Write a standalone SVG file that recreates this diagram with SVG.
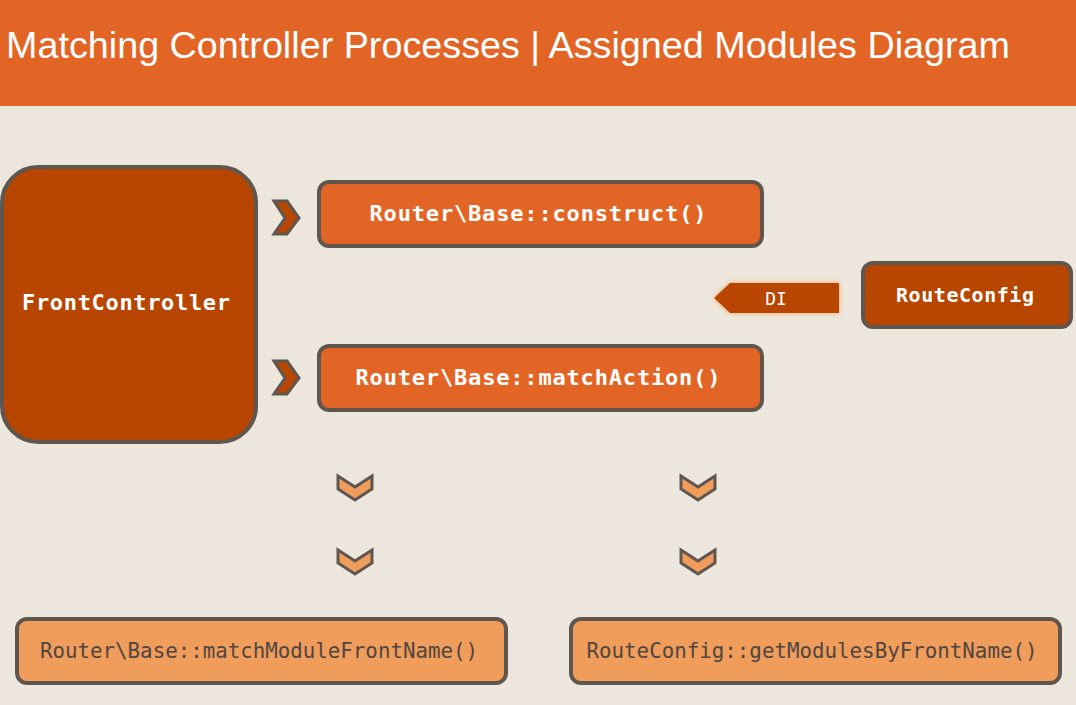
<svg xmlns="http://www.w3.org/2000/svg" width="1076" height="705" viewBox="0 0 1076 705">
<style>
  .bg{fill:#EDE6DD}
  .hdr{fill:#E36526}
  .title{font-family:"Liberation Sans",Arial,sans-serif;font-size:36px;fill:#FFFFFF}
  .box{stroke:#5F5650;stroke-width:4}
  .dark{fill:#B84500}
  .mid{fill:#E36526}
  .light{fill:#F09C5A}
  .mono{font-family:"DejaVu Sans Mono","Liberation Mono",monospace;text-anchor:middle}
  .wt{fill:#FFFFFF;font-weight:bold}
  .gt{fill:#4F4641}
  .chev{stroke:#5F5650;stroke-width:3;stroke-linejoin:miter}
</style>
<defs>
  <filter id="glow" x="-20%" y="-50%" width="140%" height="200%">
    <feGaussianBlur in="SourceAlpha" stdDeviation="2.5" result="b"/>
    <feFlood flood-color="#F5A04A" flood-opacity="0.9"/>
    <feComposite in2="b" operator="in" result="g"/>
    <feMerge><feMergeNode in="g"/><feMergeNode in="SourceGraphic"/></feMerge>
  </filter>
</defs>
<rect class="bg" x="0" y="0" width="1076" height="705"/>
<rect class="hdr" x="0" y="0" width="1076" height="106"/>
<text class="title" x="6" y="58" textLength="1004" lengthAdjust="spacingAndGlyphs">Matching Controller Processes | Assigned Modules Diagram</text>

<g id="connectors">
  <polygon class="chev dark" points="274,201 287,201 299,218 287,234 274,234 285,218"/>
  <polygon class="chev dark" points="274,361 287,361 299,378 287,394 274,394 285,378"/>
  <polygon class="chev light" points="338,476 355,487 372,476 372,489 355,500 338,489"/>
  <polygon class="chev light" points="338,550 355,561 372,550 372,563 355,574 338,563"/>
  <polygon class="chev light" points="681,476 698,487 715,476 715,489 698,500 681,489"/>
  <polygon class="chev light" points="681,550 698,561 715,550 715,563 698,574 681,563"/>
  <g id="di">
    <polygon class="dark" filter="url(#glow)" points="714,298 730,283 839,283 839,313 730,313"/>
    <text class="mono" x="776" y="305" fill="#FFFFFF" font-size="18">DI</text>
  </g>
</g>

<g id="frontcontroller">
  <rect class="box dark" x="2" y="167" width="254" height="275" rx="36"/>
  <text class="mono wt" x="126" y="310" font-size="22" textLength="208">FrontController</text>
</g>
<g id="construct">
  <rect class="box mid" x="319" y="182" width="443" height="64" rx="10"/>
  <text class="mono wt" x="538" y="221" font-size="22" textLength="337">Router\Base::construct()</text>
</g>
<g id="matchaction">
  <rect class="box mid" x="319" y="346" width="443" height="64" rx="10"/>
  <text class="mono wt" x="538" y="385" font-size="22" textLength="365">Router\Base::matchAction()</text>
</g>
<g id="routeconfig">
  <rect class="box dark" x="863" y="263" width="208" height="64" rx="10"/>
  <text class="mono wt" x="965" y="302" font-size="20" textLength="138">RouteConfig</text>
</g>
<g id="matchmodule">
  <rect class="box light" x="17" y="619" width="489" height="64" rx="10"/>
  <text class="mono gt" x="259" y="658" font-size="21" textLength="438" lengthAdjust="spacingAndGlyphs">Router\Base::matchModuleFrontName()</text>
</g>
<g id="getmodules">
  <rect class="box light" x="571" y="619" width="489" height="64" rx="10"/>
  <text class="mono gt" x="812" y="658" font-size="21" textLength="451" lengthAdjust="spacingAndGlyphs">RouteConfig::getModulesByFrontName()</text>
</g>
</svg>
